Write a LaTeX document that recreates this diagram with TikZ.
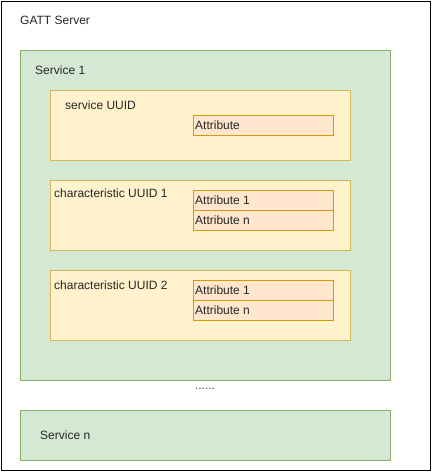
\documentclass[tikz,border=0pt]{standalone}
\usepackage{fontspec}
\setmainfont{Liberation Sans}
\definecolor{gfill}{HTML}{D5E8D4}
\definecolor{gdraw}{HTML}{82B366}
\definecolor{yfill}{HTML}{FFF2CC}
\definecolor{ydraw}{HTML}{D6B656}
\definecolor{ofill}{HTML}{FFE6CC}
\definecolor{odraw}{HTML}{D79B00}
\begin{document}
\begin{tikzpicture}[x=1pt,y=-1pt,
  svc/.style={fill=gfill,draw=gdraw,line width=1pt},
  grp/.style={fill=yfill,draw=ydraw,line width=1pt},
  attr/.style={fill=ofill,draw=odraw,line width=1pt},
  lbl/.style={font=\fontsize{12}{14}\selectfont,text=black!85,inner sep=0pt,anchor=west}]
\useasboundingbox (0,0) rectangle (432,472);
\draw[line width=1pt,fill=white] (1,1) rectangle (430.5,470.5);
\node[lbl] (gatt) at (20,20) {GATT Server};
% Service 1
\draw[svc] (20,50) rectangle (390,380);
\node[lbl] (s1) at (35,70) {Service 1};
% service UUID
\draw[grp] (50,90) rectangle (350,160);
\node[lbl] (suuid) at (65,105) {service UUID};
\draw[attr] (193,115) rectangle (333,135);
\node[lbl] (a0) at (195,125) {Attribute};
% characteristic 1
\draw[grp] (50,180) rectangle (350,250);
\node[lbl] (c1) at (54,193) {characteristic UUID 1};
\draw[attr] (193,190) rectangle (333,210);
\draw[attr] (193,210) rectangle (333,230);
\node[lbl] (c1a1) at (195,200) {Attribute 1};
\node[lbl] (c1an) at (195,220) {Attribute n};
% characteristic 2
\draw[grp] (50,270) rectangle (350,340);
\node[lbl] (c2) at (54,285) {characteristic UUID 2};
\draw[attr] (193,280) rectangle (333,300);
\draw[attr] (193,300) rectangle (333,320);
\node[lbl] (c2a1) at (195,290) {Attribute 1};
\node[lbl] (c2an) at (195,310) {Attribute n};
% dots
\node[font=\fontsize{12}{14}\selectfont,text=black!70,inner sep=0pt,anchor=base] (dots) at (205,389.5) {......};
% Service n
\draw[svc] (20,410) rectangle (390,460);
\node[lbl] (sn) at (40,435) {Service n};
\end{tikzpicture}
\end{document}
